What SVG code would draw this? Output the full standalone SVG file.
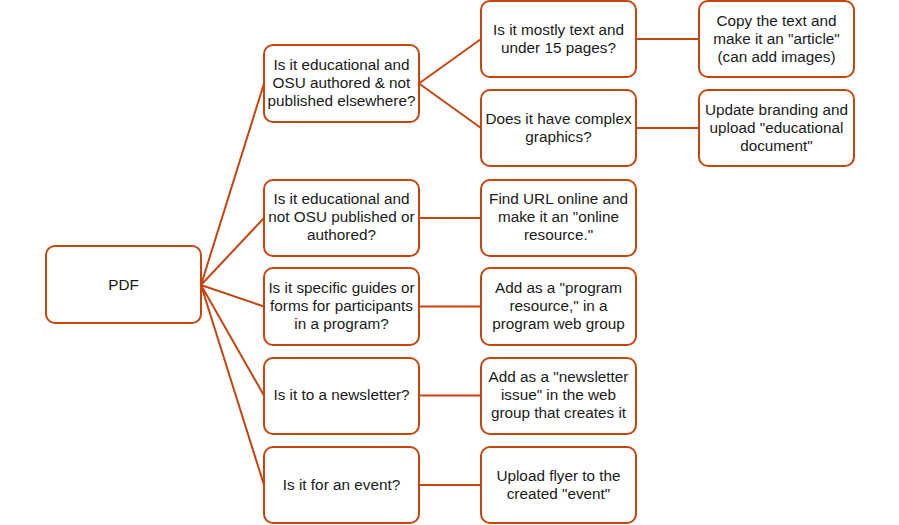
<svg xmlns="http://www.w3.org/2000/svg" width="899" height="525" viewBox="0 0 899 525">
<style>
.b{fill:#fff;stroke:#c4450f;stroke-width:2}
.c{stroke:#c4450f;stroke-width:2;fill:none}
text{font-family:"Liberation Sans",Arial,sans-serif;font-size:15.3px;fill:#1a1a1a;text-anchor:middle}
</style>
<rect width="899" height="525" fill="#fff"/>
<g id="connectors">
<path class="c" d="M201,285L264,83.5M201,285L264,218M201,285L264,306.5M201,285L264,395.5M201,285L264,485"/>
<path class="c" d="M419,83.5L481,39M419,83.5L481,128M419,218H481M419,306.5H481M419,395.5H481M419,485H481"/>
<path class="c" d="M636,39H699M636,128H699"/>
</g>
<g id="pdf"><rect class="b" x="46" y="246" width="155" height="77" rx="9"/><text x="123.5" y="290">PDF</text></g>
<g id="q1"><rect class="b" x="264" y="45" width="155" height="77" rx="9"/><text x="341.5" y="70">Is it educational and</text><text x="341.5" y="88">OSU authored &amp; not</text><text x="341.5" y="106">published elsewhere?</text></g>
<g id="q1a"><rect class="b" x="481" y="1" width="155" height="76" rx="9"/><text x="558.5" y="35">Is it mostly text and</text><text x="558.5" y="53">under 15 pages?</text></g>
<g id="q1b"><rect class="b" x="481" y="90" width="155" height="76" rx="9"/><text x="558.5" y="124">Does it have complex</text><text x="558.5" y="142">graphics?</text></g>
<g id="a1a"><rect class="b" x="699" y="1" width="155" height="76" rx="9"/><text x="776.5" y="26">Copy the text and</text><text x="776.5" y="44">make it an "article"</text><text x="776.5" y="62">(can add images)</text></g>
<g id="a1b"><rect class="b" x="699" y="90" width="155" height="76" rx="9"/><text x="776.5" y="115">Update branding and</text><text x="776.5" y="133">upload "educational</text><text x="776.5" y="151">document"</text></g>
<g id="q2"><rect class="b" x="264" y="180" width="155" height="76" rx="9"/><text x="341.5" y="204">Is it educational and</text><text x="341.5" y="222">not OSU published or</text><text x="341.5" y="240">authored?</text></g>
<g id="a2"><rect class="b" x="481" y="180" width="155" height="76" rx="9"/><text x="558.5" y="204">Find URL online and</text><text x="558.5" y="222">make it an "online</text><text x="558.5" y="240">resource."</text></g>
<g id="q3"><rect class="b" x="264" y="268" width="155" height="77" rx="9"/><text x="341.5" y="293">Is it specific guides or</text><text x="341.5" y="311">forms for participants</text><text x="341.5" y="329">in a program?</text></g>
<g id="a3"><rect class="b" x="481" y="268" width="155" height="77" rx="9"/><text x="558.5" y="293">Add as a "program</text><text x="558.5" y="311">resource," in a</text><text x="558.5" y="329">program web group</text></g>
<g id="q4"><rect class="b" x="264" y="358" width="155" height="76" rx="9"/><text x="341.5" y="400">Is it to a newsletter?</text></g>
<g id="a4"><rect class="b" x="481" y="358" width="155" height="76" rx="9"/><text x="558.5" y="382">Add as a "newsletter</text><text x="558.5" y="400">issue" in the web</text><text x="558.5" y="418">group that creates it</text></g>
<g id="q5"><rect class="b" x="264" y="447" width="155" height="76" rx="9"/><text x="341.5" y="490">Is it for an event?</text></g>
<g id="a5"><rect class="b" x="481" y="447" width="155" height="76" rx="9"/><text x="558.5" y="481">Upload flyer to the</text><text x="558.5" y="499">created "event"</text></g>
</svg>
